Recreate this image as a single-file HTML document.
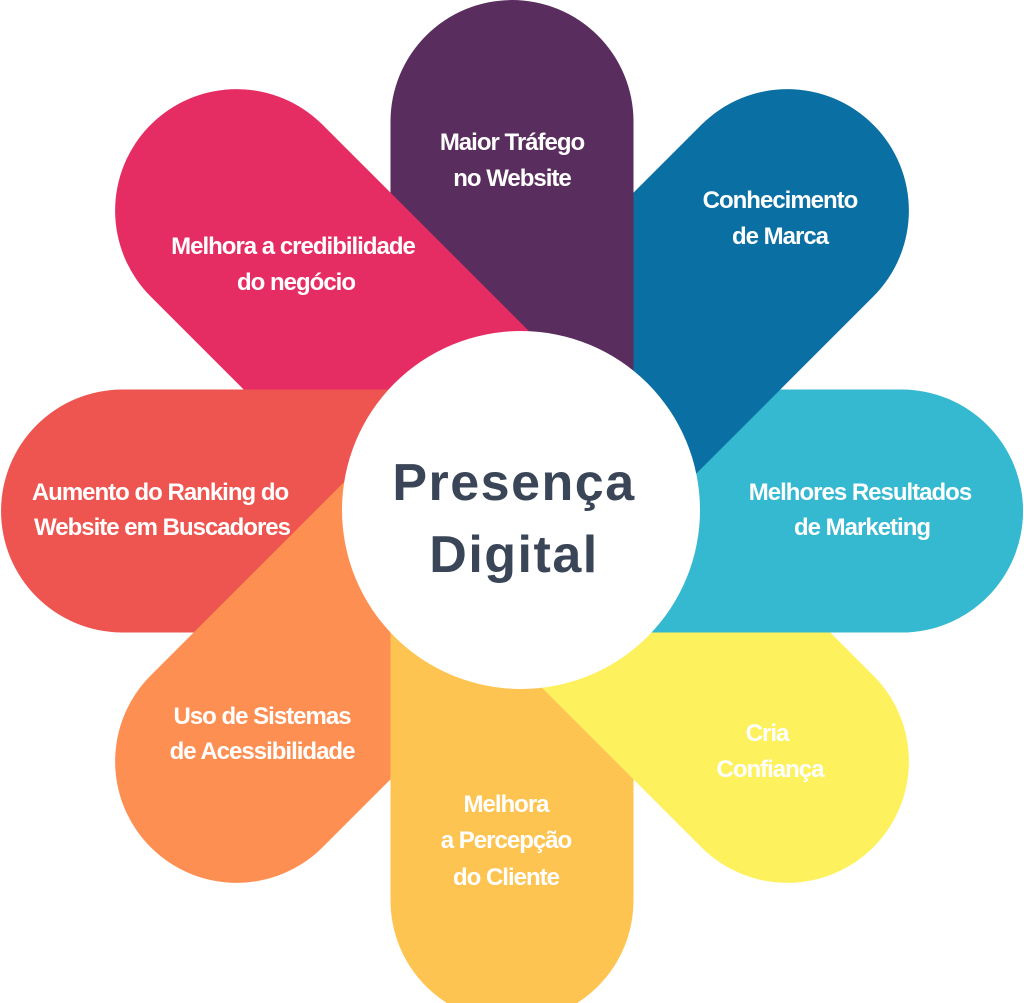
<!DOCTYPE html>
<html><head><meta charset="utf-8"><style>
html,body{margin:0;padding:0;background:#fff}
svg{display:block}
.t{font-family:"Liberation Sans Narrow","Liberation Sans",sans-serif;font-weight:bold;font-size:24px;fill:#fff;text-anchor:middle;letter-spacing:-1px}
.c{font-family:"Liberation Sans",sans-serif;font-weight:bold;font-size:52px;fill:#3a4658;text-anchor:middle;letter-spacing:1.5px}
</style></head><body>
<svg width="1024" height="1003" viewBox="0 0 1024 1003">
<defs>
<path id="p" d="M0,-121.5 L389.5,-121.5 A121.5,121.5 0 0 1 389.5,121.5 L0,121.5 Z"/>
<clipPath id="low"><rect x="0" y="488" width="1024" height="520"/></clipPath>
</defs>
<g transform="translate(512,511)">
<use href="#p" fill="#35b9d1" transform="rotate(0)"/>
<use href="#p" fill="#0a6fa3" transform="translate(0,-25) rotate(-45)"/>
<use href="#p" fill="#5a2d5f" transform="rotate(-90)"/>
<use href="#p" fill="#e52d63" transform="translate(0,-25) rotate(-135)"/>
<use href="#p" fill="#ee5550" transform="rotate(180)"/>
<use href="#p" fill="#fe8f52" transform="translate(0,-25) rotate(135)"/>
<use href="#p" fill="#fec452" transform="rotate(90)"/>
<use href="#p" fill="#fef15e" transform="translate(0,-25) rotate(45)"/>
</g>
<g clip-path="url(#low)"><use href="#p" fill="#35b9d1" transform="translate(512,511)"/></g>
<circle cx="521" cy="510" r="179" fill="#fff"/>
<text class="c" x="514" y="500">Presença</text>
<text class="c" x="514" y="572">Digital</text>
<text class="t" x="512" y="150">Maior Tráfego</text>
<text class="t" x="512" y="186">no Website</text>
<text class="t" x="780" y="208">Conhecimento</text>
<text class="t" x="780" y="244">de Marca</text>
<text class="t" x="860" y="500">Melhores Resultados</text>
<text class="t" x="862" y="535">de Marketing</text>
<text class="t" x="767" y="741">Cria</text>
<text class="t" x="770" y="777">Confiança</text>
<text class="t" x="506" y="812">Melhora</text>
<text class="t" x="506" y="848">a Percepção</text>
<text class="t" x="506" y="885">do Cliente</text>
<text class="t" x="262" y="724">Uso de Sistemas</text>
<text class="t" x="262" y="759">de Acessibilidade</text>
<text class="t" x="160" y="500">Aumento do Ranking do</text>
<text class="t" x="162" y="535">Website em Buscadores</text>
<text class="t" x="293" y="254">Melhora a  credibilidade</text>
<text class="t" x="296" y="290">do negócio</text>
</svg>
</body></html>
